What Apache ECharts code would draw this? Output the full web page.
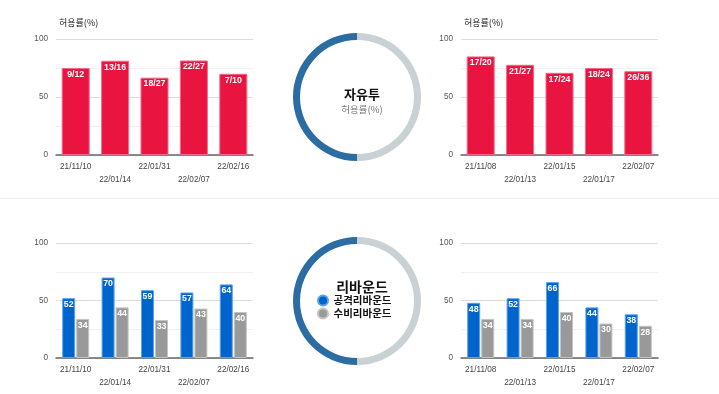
<!DOCTYPE html>
<html><head><meta charset="utf-8">
<script src="https://cdn.jsdelivr.net/npm/echarts@6/dist/echarts.min.js"></script>
<style>html,body{margin:0;padding:0;background:#fff}#c{width:719px;height:394px}</style>
</head><body><div id="c"></div>
<script>
// ---- data ----
const ftDatesA = ['21/11/10','22/01/14','22/01/31','22/02/07','22/02/16'];
const ftMadeA = [9, 13, 18, 22, 7];
const ftAttA = [12, 16, 27, 27, 10];
const ftDatesB = ['21/11/08','22/01/13','22/01/15','22/01/17','22/02/07'];
const ftMadeB = [17, 21, 17, 18, 26];
const ftAttB = [20, 27, 24, 24, 36];
const rbDatesA = ['21/11/10','22/01/14','22/01/31','22/02/07','22/02/16'];
const offRbA = [52, 70, 59, 57, 64];
const defRbA = [34, 44, 33, 43, 40];
const rbDatesB = ['21/11/08','22/01/13','22/01/15','22/01/17','22/02/07'];
const offRbB = [48, 52, 66, 44, 38];
const defRbB = [34, 34, 40, 30, 28];
const donutValues = [50, 50];
const yTicks = [0, 25, 50, 75, 100];

const FONT = '"Liberation Sans", Arial, "Noto Sans CJK KR", sans-serif';
const KFONT = '"Noto Sans CJK KR", "Liberation Sans", sans-serif';
const RED = '#E9143F', BLUE = '#0064CD', GRAY = '#999999';

const grids = [
  {left: 56, top: 39, width: 197, height: 116},
  {left: 461, top: 39, width: 197, height: 116},
  {left: 56, top: 243, width: 197, height: 115},
  {left: 461, top: 243, width: 197, height: 115}
];
const catSets = [ftDatesA, ftDatesB, rbDatesA, rbDatesB];

const xAxes = catSets.map((cats, i) => ({
  type: 'category', gridIndex: i, data: cats,
  axisTick: {show: false},
  axisLine: {lineStyle: {color: '#666', width: 1.5}},
  axisLabel: {
    interval: 0, color: '#444', fontSize: 8.2, fontFamily: FONT, lineHeight: 13, margin: 5,
    formatter: (v, idx) => idx % 2 ? '\n' + v : v
  }
}));
const yAxes = grids.map((g, i) => ({
  type: 'value', gridIndex: i, min: yTicks[0], max: yTicks[yTicks.length - 1], interval: 25,
  axisLine: {show: false}, axisTick: {show: false},
  axisLabel: {color: '#555', fontSize: 8.2, fontFamily: FONT, margin: 8,
    formatter: v => (v % 50 === 0 ? String(v) : '')},
  splitLine: {lineStyle: {color: ['#dcdcdc', '#f0f0f0'], width: 1}}
}));

function pctBar(made, att, idx) {
  return {
    type: 'bar', xAxisIndex: idx, yAxisIndex: idx, barWidth: 28,
    silent: true,
    data: made.map((m, k) => ({value: m / att[k] * 100, name: m + '/' + att[k]})),
    itemStyle: {color: RED, borderColor: '#F2688A', borderWidth: 1},
    label: {show: true, position: 'insideTop', distance: 2, color: '#fff', fontWeight: 'bold',
      fontSize: 8.8, fontFamily: FONT, formatter: p => p.name}
  };
}
function rbBar(name, vals, color, border, idx) {
  return {
    type: 'bar', name: name, xAxisIndex: idx, yAxisIndex: idx, barWidth: 13, barGap: '8%',
    silent: true, data: vals,
    itemStyle: {color: color, borderColor: border, borderWidth: 1},
    label: {show: true, position: 'insideTop', distance: 2, color: '#fff', fontWeight: 'bold',
      fontSize: 8.8, fontFamily: FONT}
  };
}
function donut(cy) {
  return {
    type: 'pie', center: [357, cy], radius: [57, 64], startAngle: 90, clockwise: true,
    silent: true, label: {show: false}, labelLine: {show: false},
    data: [
      {value: donutValues[1], name: 'b', itemStyle: {color: '#C9D1D5'}},
      {value: donutValues[0], name: 'a', itemStyle: {color: '#2B6CA3'}}
    ]
  };
}

const chart = echarts.init(document.getElementById('c'), null, {renderer: 'canvas'});
chart.setOption({
  animation: false,
  backgroundColor: '#fff',
  grid: grids,
  xAxis: xAxes,
  yAxis: yAxes,
  title: [
    {text: '허용률(%)', left: 54, top: 13, textStyle: {fontSize: 9, fontWeight: 'normal', color: '#222', fontFamily: KFONT}},
    {text: '허용률(%)', left: 459, top: 13, textStyle: {fontSize: 9, fontWeight: 'normal', color: '#222', fontFamily: KFONT}},
    {text: '자유투', subtext: '허용률(%)', left: 357, top: 83, textAlign: 'center', itemGap: 4,
      textStyle: {fontSize: 13, fontWeight: 'bold', color: '#111', fontFamily: KFONT},
      subtextStyle: {fontSize: 9.5, color: '#777', fontFamily: KFONT}},
    {text: '리바운드', left: 357, top: 275, textAlign: 'center',
      textStyle: {fontSize: 14, fontWeight: 'bold', color: '#111', fontFamily: KFONT}}
  ],
  legend: {
    orient: 'vertical', left: 312, top: 289, icon: 'circle', itemWidth: 11, itemHeight: 10, itemGap: 0,
    selectedMode: false, data: ['공격리바운드', '수비리바운드'],
    textStyle: {fontSize: 10.5, lineHeight: 13, color: '#111', fontWeight: 'bold', fontFamily: KFONT}
  },
  graphic: [{type: 'line', shape: {x1: 0, y1: 198.5, x2: 719, y2: 198.5}, style: {stroke: '#eeeeee', lineWidth: 1}, silent: true}],
  series: [
    pctBar(ftMadeA, ftAttA, 0),
    pctBar(ftMadeB, ftAttB, 1),
    rbBar('공격리바운드', offRbA, BLUE, '#5DA2E8', 2),
    rbBar('수비리바운드', defRbA, GRAY, '#C4C4C4', 2),
    rbBar('공격리바운드', offRbB, BLUE, '#5DA2E8', 3),
    rbBar('수비리바운드', defRbB, GRAY, '#C4C4C4', 3),
    donut(97),
    donut(301)
  ]
});
</script></body></html>
